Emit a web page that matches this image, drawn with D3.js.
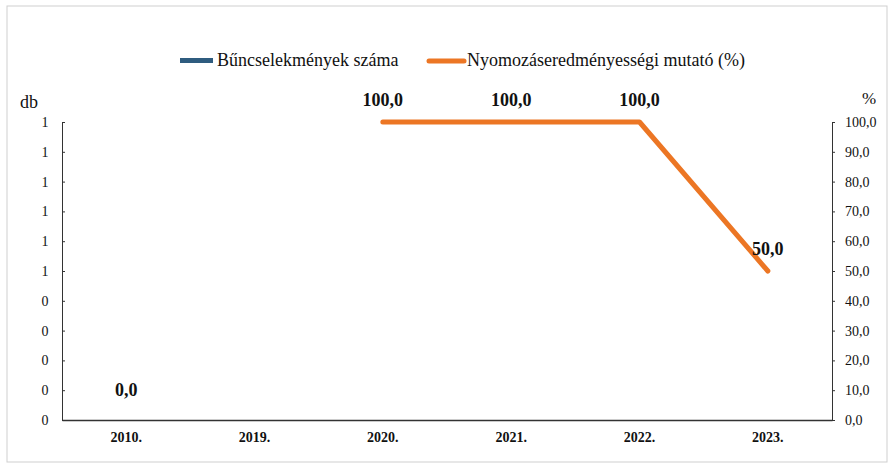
<!DOCTYPE html>
<html>
<head>
<meta charset="utf-8">
<script src="https://cdn.jsdelivr.net/npm/d3@7"></script>
<style>
  body { margin: 0; background: #fff; }
  text { font-family: "Liberation Serif", "Times New Roman", serif; fill: #111; }
  .axis path, .axis line { stroke: #333; }
</style>
</head>
<body>
<svg id="chart"></svg>
<script>
// data
const years = ['2010.', '2019.', '2020.', '2021.', '2022.', '2023.'];
const crimes = [0, 0, 0, 0, 0, 0];                 // Bűncselekmények száma (db)
const rate = [0, null, 100, 100, 100, 50];          // Nyomozáseredményességi mutató (%)
const leftTicks = [0, 0.1, 0.2, 0.3, 0.4, 0.5, 0.6, 0.7, 0.8, 0.9, 1];
const rightTicks = [0, 10, 20, 30, 40, 50, 60, 70, 80, 90, 100];
const seriesNames = ['Bűncselekmények száma', 'Nyomozáseredményességi mutató (%)'];

const W = 890, H = 465;
const margin = { top: 122, right: 58, bottom: 45, left: 62 };
const width = W - margin.left - margin.right;
const height = H - margin.top - margin.bottom;
const orange = '#EC7624';
const blue = '#2F5C7F';

const svg = d3.select('#chart').attr('width', W).attr('height', H);

// outer frame
svg.append('rect')
  .attr('x', 7).attr('y', 6)
  .attr('width', 880).attr('height', 456)
  .attr('fill', 'none')
  .attr('stroke', '#cfcfcf');

const chart = svg.append('g')
  .attr('transform', `translate(${margin.left},${margin.top})`);

const x = d3.scaleBand().domain(years).range([0, width]);
const yL = d3.scaleLinear().domain([0, 1]).range([height, 0]);
const yR = d3.scaleLinear().domain([0, 100]).range([height, 0]);

// left axis, ticks pointing inward
const leftAxis = chart.append('g')
  .attr('class', 'axis')
  .call(d3.axisRight(yL).tickValues(leftTicks).tickSize(3).tickSizeOuter(3).tickFormat((d) => Math.round(d)));
leftAxis.selectAll('text')
  .attr('x', -17)
  .attr('text-anchor', 'middle')
  .style('font-size', '14px');

// right axis
const rightAxis = chart.append('g')
  .attr('class', 'axis')
  .attr('transform', `translate(${width},0)`)
  .call(d3.axisRight(yR).tickValues(rightTicks).tickSize(3).tickSizeOuter(0).tickFormat((d) => d.toFixed(1).replace('.', ',')));
rightAxis.selectAll('text')
  .attr('x', 13)
  .style('font-size', '14px');

// bottom axis
const bottomAxis = chart.append('g')
  .attr('class', 'axis')
  .attr('transform', `translate(0,${height})`)
  .call(d3.axisBottom(x).tickSize(0).tickSizeOuter(0));
bottomAxis.selectAll('text')
  .attr('y', 12)
  .style('font-size', '14px')
  .style('font-weight', 'bold');
bottomAxis.select('.domain').attr('stroke-width', 1.5);

// bars (all zero)
chart.selectAll('.bar')
  .data(crimes)
  .join('rect')
  .attr('class', 'bar')
  .attr('x', (d, i) => x(years[i]) + x.bandwidth() * 0.3)
  .attr('width', x.bandwidth() * 0.4)
  .attr('y', (d) => yL(d))
  .attr('height', (d) => height - yL(d))
  .attr('fill', blue);

// line segments (only drawn where neighbours exist)
const pts = rate.map((v, i) => ({ year: years[i], v }));
const segments = [];
let cur = [];
pts.forEach((p) => {
  if (p.v === null) {
    if (cur.length) segments.push(cur);
    cur = [];
  } else {
    cur.push(p);
  }
});
if (cur.length) segments.push(cur);

const line = d3.line()
  .x((d) => x(d.year) + x.bandwidth() / 2)
  .y((d) => yR(d.v));

chart.selectAll('.rate-line')
  .data(segments.filter((s) => s.length > 1))
  .join('path')
  .attr('class', 'rate-line')
  .attr('d', line)
  .attr('fill', 'none')
  .attr('stroke', orange)
  .attr('stroke-width', 5)
  .attr('stroke-linejoin', 'round')
  .attr('stroke-linecap', 'round');

// data labels
chart.selectAll('.dlabel')
  .data(pts.filter((p) => p.v !== null))
  .join('text')
  .attr('class', 'dlabel')
  .attr('x', (d) => x(d.year) + x.bandwidth() / 2)
  .attr('y', (d) => yR(d.v) - (d.v === 0 ? 24 : 16))
  .attr('text-anchor', 'middle')
  .style('font-size', '18px')
  .style('font-weight', 'bold')
  .text((d) => d.v.toFixed(1).replace('.', ','));

// unit titles
svg.append('text').attr('x', 20).attr('y', 108).style('font-size', '18px').text('db');
svg.append('text').attr('x', 862).attr('y', 104).style('font-size', '17px').text('%');

// legend
const legend = svg.append('g').attr('transform', 'translate(0,61)');
legend.append('rect')
  .attr('x', 180).attr('y', -3)
  .attr('width', 33).attr('height', 5)
  .attr('fill', blue);
legend.append('text')
  .attr('x', 217).attr('y', 5)
  .style('font-size', '18px')
  .text(seriesNames[0]);
legend.append('line')
  .attr('x1', 429).attr('x2', 464)
  .attr('y1', 0).attr('y2', 0)
  .attr('stroke', orange)
  .attr('stroke-width', 5)
  .attr('stroke-linecap', 'round');
legend.append('text')
  .attr('x', 467).attr('y', 5)
  .style('font-size', '18px')
  .text(seriesNames[1]);
</script>
</body>
</html>
